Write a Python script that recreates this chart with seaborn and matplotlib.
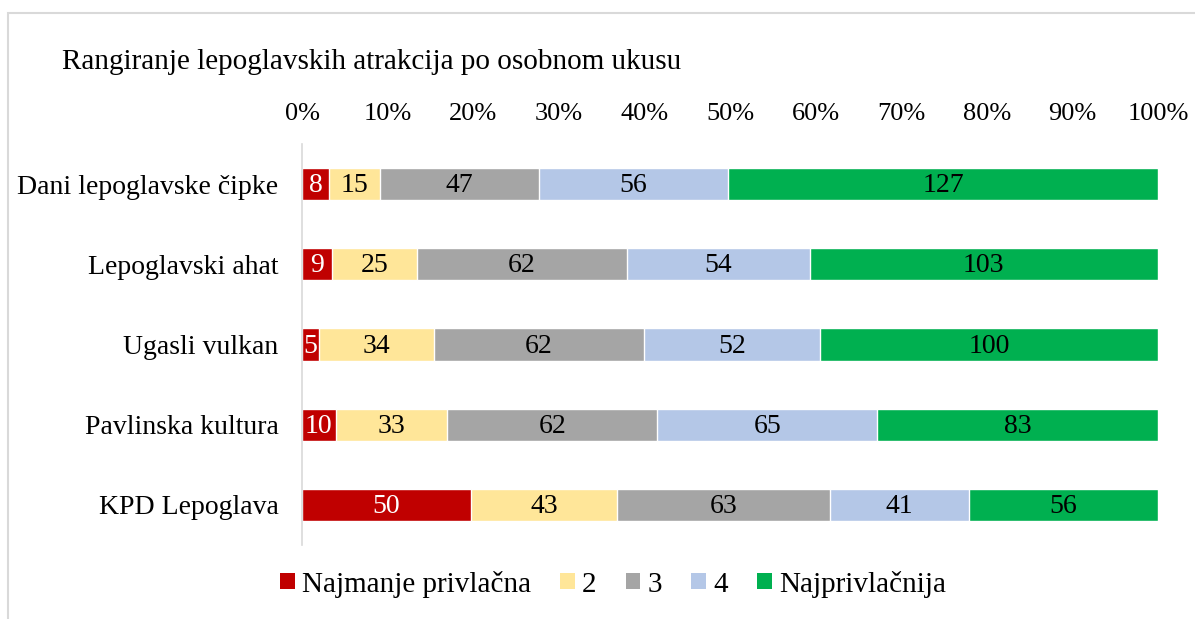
import matplotlib
matplotlib.use("Agg")
import matplotlib.pyplot as plt
from matplotlib.patches import Rectangle, Patch
import numpy as np
import pandas as pd
import seaborn as sns

# Survey counts per attraction, rank 1 (least attractive) .. 5 (most attractive)
attractions = ["Dani lepoglavske čipke", "Lepoglavski ahat", "Ugasli vulkan",
               "Pavlinska kultura", "KPD Lepoglava"]
rank_names = ["Najmanje privlačna", "2", "3", "4", "Najprivlačnija"]
rank1 = [8, 9, 5, 10, 50]
rank2 = [15, 25, 34, 33, 43]
rank3 = [47, 62, 62, 62, 63]
rank4 = [56, 54, 52, 65, 41]
rank5 = [127, 103, 100, 83, 56]
tick_labels = ["0%", "10%", "20%", "30%", "40%", "50%", "60%", "70%", "80%", "90%", "100%"]

colors = ["#C00000", "#FFE699", "#A5A5A5", "#B4C7E7", "#00B050"]
text_colors = ["white", "black", "black", "black", "black"]

sns.set_theme(style="white")
plt.rcParams["font.family"] = ["Liberation Serif", "DejaVu Serif"]
plt.rcParams.update({"text.color": "black", "axes.labelcolor": "black",
                     "xtick.color": "black", "ytick.color": "black"})

counts = np.array([rank1, rank2, rank3, rank4, rank5], dtype=float)  # ranks x attractions
totals = counts.sum(axis=0)
shares = counts / totals
cum = np.cumsum(shares, axis=0)

fig = plt.figure(figsize=(11.95, 6.19), dpi=100)
ax = fig.add_axes([302 / 1195, 1 - 545 / 619, (1158 - 302) / 1195, 401 / 619])

# Stacked 100% bars: draw the cumulative totals from the outermost segment inward
for k in range(len(rank_names) - 1, -1, -1):
    df = pd.DataFrame({"attraction": attractions, "share": cum[k]})
    sns.barplot(data=df, y="attraction", x="share", orient="h", color=colors[k],
                saturation=1, width=0.4, edgecolor="white", linewidth=1, ax=ax)

# Value labels centred in each segment
for k in range(len(rank_names)):
    for i in range(len(attractions)):
        start = cum[k - 1][i] if k > 0 else 0.0
        ax.text(start + shares[k][i] / 2, i + 0.02, f"{int(counts[k][i])}",
                ha="center", va="center", fontsize=20, color=text_colors[k])

ax.set_xlim(0, 1)
ax.set_ylim(len(attractions) - 0.5, -0.5)
ax.set_xticks(np.linspace(0, 1, 11))
ax.set_xticklabels(tick_labels, fontsize=19)
ax.xaxis.tick_top()
ax.tick_params(axis="x", length=0, pad=14)
ax.tick_params(axis="y", length=0, pad=17, labelsize=20)
ax.set_xlabel("")
ax.set_ylabel("")
for side in ["top", "right", "bottom"]:
    ax.spines[side].set_visible(False)
ax.spines["left"].set_color("#D9D9D9")
ax.spines["left"].set_linewidth(1.2)

fig.text(62 / 1195, 1 - 62 / 619, "Rangiranje lepoglavskih atrakcija po osobnom ukusu",
         fontsize=21, ha="left", va="center")

handles = [Patch(facecolor=c, edgecolor="none") for c in colors]
fig.legend(handles, rank_names, loc="center", bbox_to_anchor=(613 / 1195, 1 - 584 / 619),
           ncol=5, frameon=False, fontsize=21, handlelength=0.5, handleheight=0.5,
           handletextpad=0.25, columnspacing=1.0)

# Light chart-area frame
fig.patches.append(Rectangle((8 / 1195, -0.1), 1.2, 1 - 13 / 619 + 0.1,
                             transform=fig.transFigure, fill=False,
                             edgecolor="#D9D9D9", linewidth=1.5))

fig.savefig("out.png", dpi=100, facecolor="white")
